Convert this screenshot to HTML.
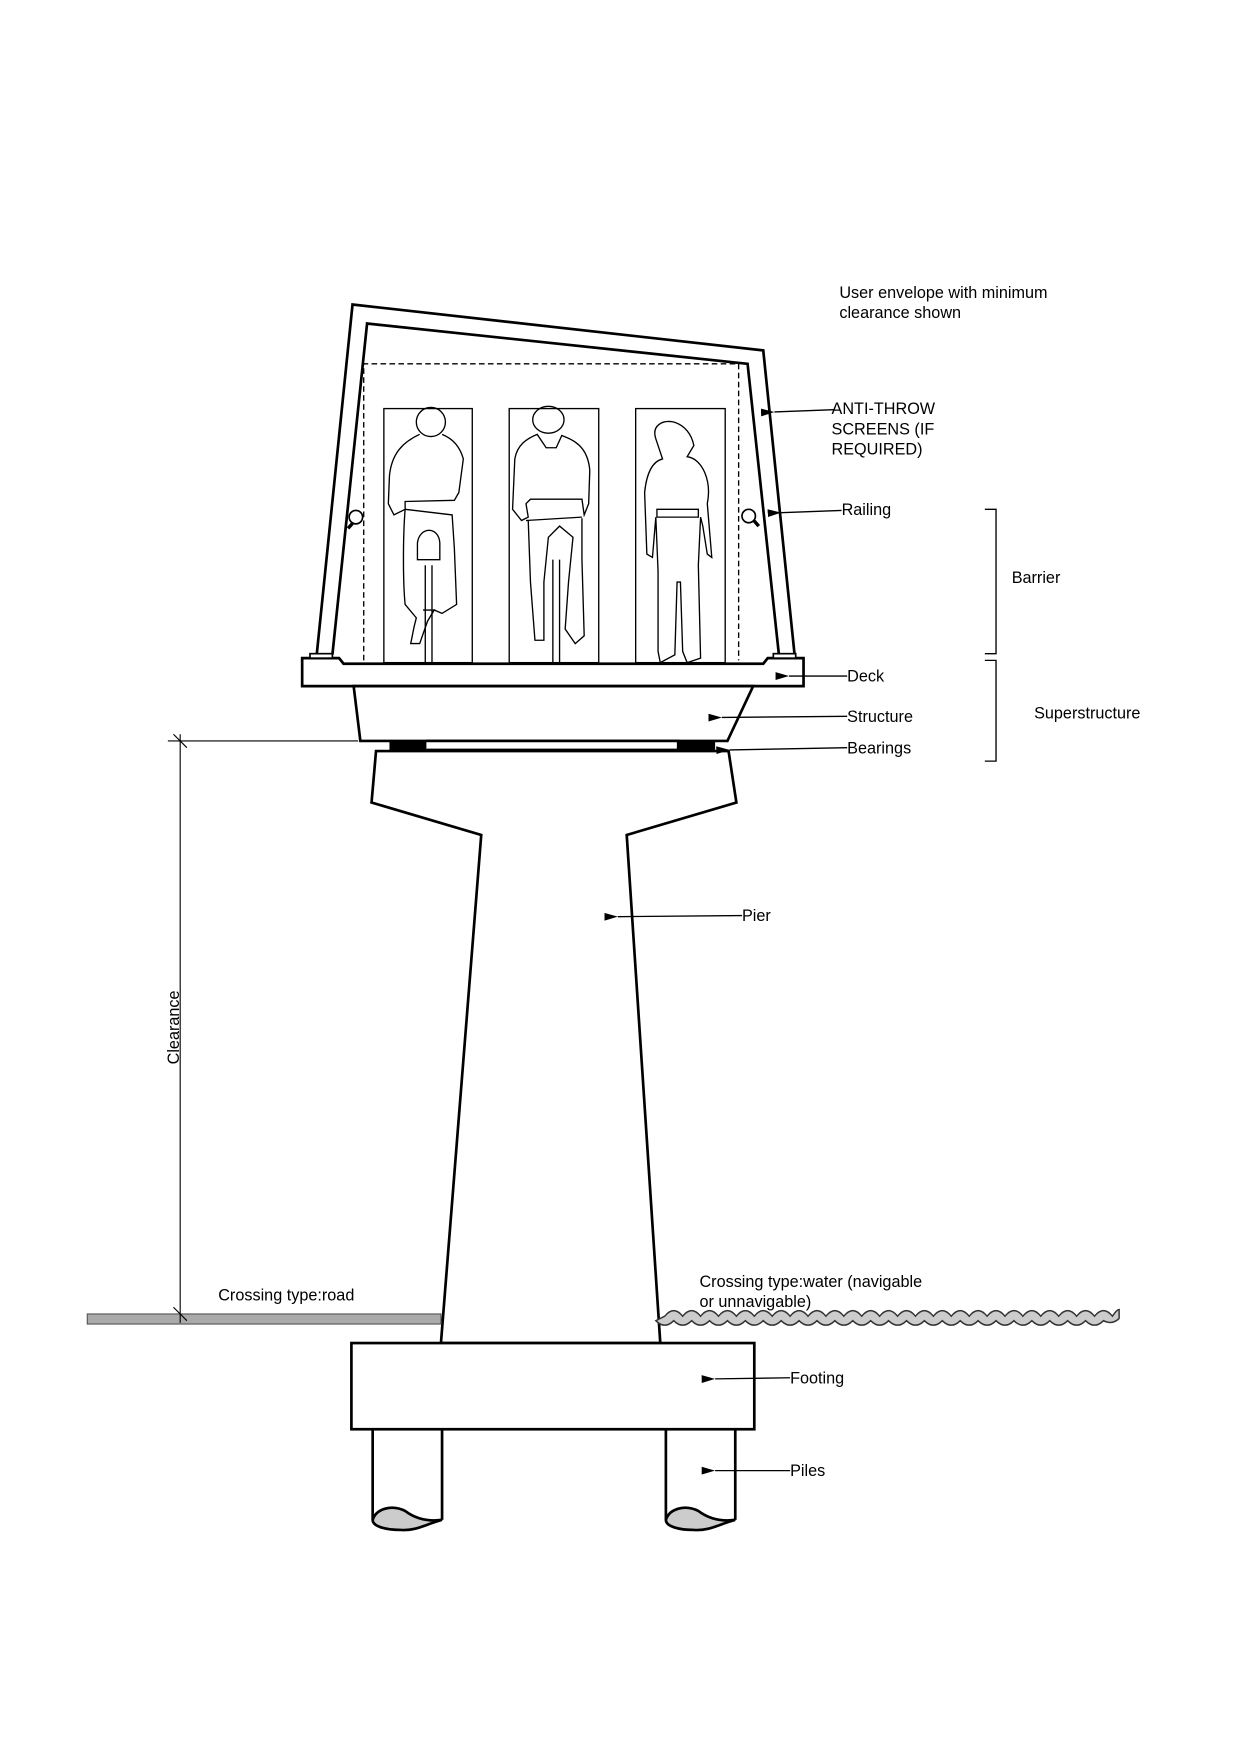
<!DOCTYPE html>
<html><head><meta charset="utf-8"><style>
html,body{margin:0;padding:0;background:#fff}
svg{display:block}
text{font-family:"Liberation Sans",sans-serif;font-size:14.5px;fill:#000}
</style></head><body>
<svg width="1240" height="1755" viewBox="0 0 1108 1568" xmlns="http://www.w3.org/2000/svg">
<defs>
<marker id="a" markerWidth="12" markerHeight="7" refX="0" refY="3.5" orient="auto" markerUnits="userSpaceOnUse">
<path d="M12,0 L0,3.5 L12,7 z" fill="#000"/></marker>
</defs>
<g fill="none" stroke="#000" stroke-width="2.4">
<polyline points="283,585 315,272 682,313 710,585"/>
<polyline points="297,585 328,289 668,325 696,585"/>
</g>
<polyline points="325,590 325,325 660,325 660,590" fill="none" stroke="#000" stroke-width="1.2" stroke-dasharray="5,3"/>
<g fill="none" stroke="#000" stroke-width="1.2">
<rect x="343" y="365" width="79" height="227"/>
<rect x="455" y="365" width="80" height="227"/>
<rect x="568" y="365" width="80" height="227"/>
<circle cx="385" cy="377" r="13"/>
<path d="M375,388 C360,395 350,405 348,425 L347,450 L352,460 L362,455 L362,448 L406,447 L410,440 L414,410 C410,395 400,390 395,388"/>
<path d="M362,455 C360,480 360,520 362,540 L372,552 L370,560 L367,575 L375,575 L382,555 L388,545 L395,548 L408,540 L406,490 L404,460 L362,455"/>
<path d="M373,485 C375,470 392,470 393,485 L393,500 L373,500 z"/>
<path d="M380,505 L380,592 M386,505 L386,592 M378,545 L389,545"/>
<ellipse cx="490" cy="375" rx="14" ry="12"/>
<path d="M480,388 C470,392 462,398 460,410 L458,455 L466,465 L472,462 L470,450 L474,446 L520,446 L522,460 L526,450 L527,420 C525,398 512,393 502,389 L497,400 L488,400 Z"/>
<path d="M470,465 L520,462 M472,465 L474,520 L478,572 L486,572 L486,520 L490,480 L500,470 L512,480 L508,520 L505,562 L514,575 L522,568 L520,500 L520,463"/>
<path d="M494,500 L494,592 M500,500 L500,592"/>
<path d="M586,392 C582,380 592,375 602,377 C612,380 618,388 620,398 L614,408 C628,410 636,430 632,450 L636,498 L632,495 L628,470 L626,462 L624,505 L626,588 L614,592 L610,582 L608,520 L605,520 L603,585 L590,592 L588,582 L588,510 L586,462 L583,498 L578,495 L576,440 C578,420 584,412 592,410 Z"/>
<path d="M587,455 L624,455 L624,462 L587,462 Z"/>
</g>
<g stroke="#000" stroke-width="1.5" fill="#fff">
<line x1="311" y1="472" x2="320" y2="462" stroke-width="3"/>
<circle cx="318" cy="462" r="6"/>
<line x1="678" y1="470" x2="670" y2="461" stroke-width="3"/>
<circle cx="669" cy="461" r="6"/>
</g>
<g fill="#fff" stroke="#000" stroke-width="2.4">
<path d="M270,588 L303,588 L307,593 L682,593 L686,588 L718,588 L718,613 L270,613 Z"/>
<rect x="277" y="584" width="20" height="4" stroke-width="1.5"/>
<rect x="691" y="584" width="20" height="4" stroke-width="1.5"/>
<path d="M316,613 L673,613 L650,662 L322,662 Z"/>
<path d="M381,662 L606,662 L606,670 L381,670"/>
<path d="M336,671 L651,671 L658,717 L560,746 L590,1200 L394,1200 L430,746 L332,717 Z"/>
<rect x="314" y="1200" width="360" height="77"/>
<path d="M333,1277 L333,1358 M395,1277 L395,1358 M595,1277 L595,1358 M657,1277 L657,1358"/>
</g>
<rect x="348" y="662" width="33" height="9" fill="#000"/>
<rect x="606" y="662" width="33" height="9" fill="#000"/>
<g fill="#ccc" stroke="#000" stroke-width="2.4">
<path d="M333,1358 C336,1348 350,1344 362,1350 C370,1356 380,1360 395,1358 C380,1362 372,1368 358,1367 C345,1367 333,1364 333,1358 Z"/>
<path d="M595,1358 C598,1348 612,1344 624,1350 C632,1356 642,1360 657,1358 C642,1362 634,1368 620,1367 C607,1367 595,1364 595,1358 Z"/>
</g>
<rect x="78" y="1174" width="316" height="9" fill="#aaa" stroke="#555" stroke-width="1"/>
<path d="M594,1176 q8,-10 16,0 q8,-10 16,0 q8,-10 16,0 q8,-10 16,0 q8,-10 16,0 q8,-10 16,0 q8,-10 16,0 q8,-10 16,0 q8,-10 16,0 q8,-10 16,0 q8,-10 16,0 q8,-10 16,0 q8,-10 16,0 q8,-10 16,0 q8,-10 16,0 q8,-10 16,0 q8,-10 16,0 q8,-10 16,0 q8,-10 16,0 q8,-10 16,0 q8,-10 16,0 q8,-10 16,0 q8,-10 16,0 q8,-10 16,0 q8,-10 16,0 q4,-6 6,-6 l0,8 q-6,6 -14,2 q-8,8 -16,0 q-8,8 -16,0 q-8,8 -16,0 q-8,8 -16,0 q-8,8 -16,0 q-8,8 -16,0 q-8,8 -16,0 q-8,8 -16,0 q-8,8 -16,0 q-8,8 -16,0 q-8,8 -16,0 q-8,8 -16,0 q-8,8 -16,0 q-8,8 -16,0 q-8,8 -16,0 q-8,8 -16,0 q-8,8 -16,0 q-8,8 -16,0 q-8,8 -16,0 q-8,8 -16,0 q-8,8 -16,0 q-8,8 -16,0 q-8,8 -16,0 q-8,8 -16,0 q-8,8 -16,0 z" fill="#ccc" stroke="#333" stroke-width="1.3"/>
<g stroke="#000" stroke-width="1">
<line x1="161" y1="656" x2="161" y2="1182"/>
<line x1="150" y1="662" x2="320" y2="662"/>
<line x1="155" y1="656" x2="167" y2="668"/>
<line x1="155" y1="1168" x2="167" y2="1180"/>
</g>
<text transform="translate(160,951) rotate(-90)">Clearance</text>
<polyline points="880,455 890,455 890,584 880,584" fill="none" stroke="#000" stroke-width="1.2"/>
<polyline points="880,590 890,590 890,680 880,680" fill="none" stroke="#000" stroke-width="1.2"/>
<g stroke="#000" stroke-width="1.2" marker-end="url(#a)">
<line x1="745" y1="366" x2="692" y2="368"/>
<line x1="752" y1="456" x2="698" y2="458"/>
<line x1="757" y1="604" x2="705" y2="604"/>
<line x1="757" y1="640" x2="645" y2="641"/>
<line x1="757" y1="668" x2="652" y2="670"/>
<line x1="663" y1="818" x2="552" y2="819"/>
<line x1="706" y1="1231" x2="639" y2="1232"/>
<line x1="706" y1="1314" x2="639" y2="1314"/>
</g>
<text x="750" y="266">User envelope with minimum</text>
<text x="750" y="284">clearance shown</text>
<text x="743" y="370">ANTI-THROW</text>
<text x="743" y="388">SCREENS (IF</text>
<text x="743" y="406">REQUIRED)</text>
<text x="752" y="460">Railing</text>
<text x="904" y="521">Barrier</text>
<text x="757" y="609">Deck</text>
<text x="924" y="642">Superstructure</text>
<text x="757" y="645">Structure</text>
<text x="757" y="673">Bearings</text>
<text x="663" y="823">Pier</text>
<text x="195" y="1162">Crossing type:road</text>
<text x="625" y="1150">Crossing type:water (navigable</text>
<text x="625" y="1168">or unnavigable)</text>
<text x="706" y="1236">Footing</text>
<text x="706" y="1319">Piles</text>
</svg>
</body></html>
